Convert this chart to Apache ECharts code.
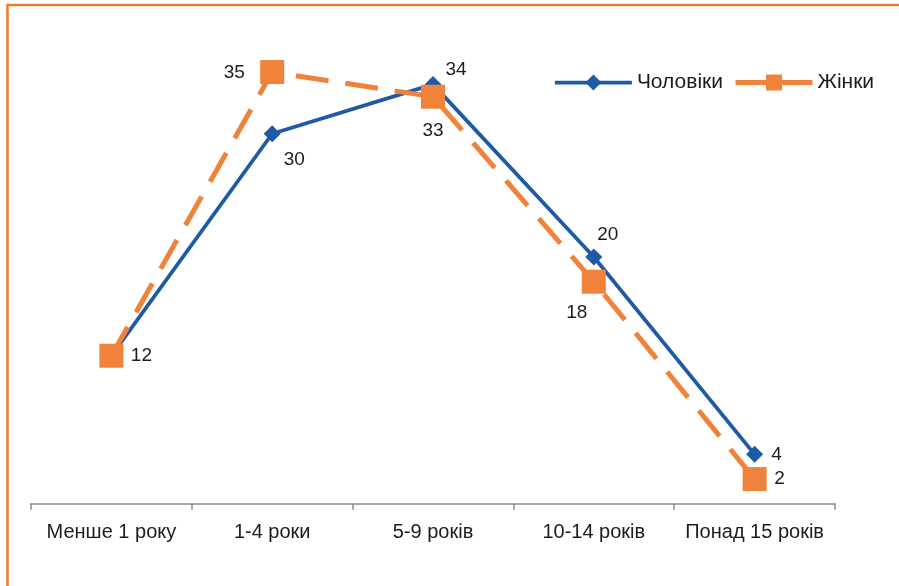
<!DOCTYPE html>
<html>
<head>
<meta charset="utf-8">
<script src="https://cdn.jsdelivr.net/npm/echarts@6/dist/echarts.min.js"></script>
<style>
  html, body { margin: 0; padding: 0; background: #ffffff; }
  #chart { width: 899px; height: 586px; }
</style>
</head>
<body>
<div id="chart"></div>
<script>
// Стаж роботи за статтю, %
const categories = ['Менше 1 року', '1-4 роки', '5-9 років', '10-14 років', 'Понад 15 років'];
const seriesNames = ['Чоловіки', 'Жінки'];
const men = [12, 30, 34, 20, 4];
const women = [12, 35, 33, 18, 2];

// Label placement for each point: [show, offsetX, offsetY]
const menLabelOffsets = [[false, 0, 0], [true, 22, 26], [true, 23, -15], [true, 14, -22], [true, 22, 0]];
const womenLabelOffsets = [[true, 30, 0], [true, -38, 1], [true, 0, 34], [true, -17, 31], [true, 25, 0]];

const FONT = '"Liberation Sans", Arial, sans-serif';
const TEXT = '#1c1c1c';
const BLUE = '#1f5aa6';
const ORANGE = '#f0823a';

function withLabels(values, offsets) {
  return values.map((v, i) => ({
    value: v,
    label: {
      show: offsets[i][0],
      position: 'inside',
      offset: [offsets[i][1], offsets[i][2]],
      align: 'center',
      verticalAlign: 'middle'
    }
  }));
}

const chart = echarts.init(document.getElementById('chart'), null, { renderer: 'canvas' });

chart.setOption({
  backgroundColor: '#ffffff',
  animation: false,
  graphic: [{
    type: 'rect',
    shape: { x: 7.5, y: 5, width: 920, height: 620 },
    style: { fill: 'none', stroke: '#f07a2c', lineWidth: 2.5 },
    silent: true
  }],
  grid: { left: 31, right: 64, top: 10.4, bottom: 82.3, containLabel: false },
  legend: {
    left: 553,
    top: 72,
    padding: 0,
    itemWidth: 77,
    itemHeight: 20,
    itemGap: 10,
    textStyle: { fontFamily: FONT, fontSize: 21, color: TEXT },
    data: [
      { name: seriesNames[0], lineStyle: { width: 3.75, type: 'solid' } },
      { name: seriesNames[1], lineStyle: { width: 5, type: 'solid' } }
    ]
  },
  xAxis: {
    type: 'category',
    data: categories,
    boundaryGap: true,
    axisLine: { lineStyle: { color: '#8a8a8a', width: 1.5 } },
    axisTick: { show: true, length: 6, interval: 0, lineStyle: { color: '#8a8a8a', width: 1.5 } },
    axisLabel: { fontFamily: FONT, fontSize: 20, color: TEXT, margin: 19, interval: 0 }
  },
  yAxis: {
    type: 'value',
    min: 0,
    max: 40,
    show: false,
    splitLine: { show: false }
  },
  series: [
    {
      name: seriesNames[0],
      type: 'line',
      data: withLabels(men, menLabelOffsets),
      symbol: 'diamond',
      symbolSize: 17,
      z: 2,
      lineStyle: { color: BLUE, width: 3.75 },
      itemStyle: { color: BLUE },
      label: { fontFamily: FONT, fontSize: 19, color: TEXT }
    },
    {
      name: seriesNames[1],
      type: 'line',
      data: withLabels(women, womenLabelOffsets),
      symbol: 'rect',
      symbolSize: 24,
      z: 3,
      lineStyle: { color: ORANGE, width: 5, type: [33, 17] },
      itemStyle: { color: ORANGE },
      label: { fontFamily: FONT, fontSize: 19, color: TEXT }
    }
  ]
});
</script>
</body>
</html>
